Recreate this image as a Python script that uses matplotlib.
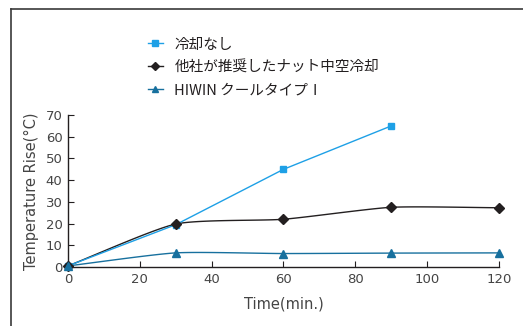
import matplotlib.pyplot as plt
from matplotlib.lines import Line2D
import numpy as np

plt.rcParams['font.family'] = ['DejaVu Sans', 'Noto Sans CJK JP']

# data
time_none = [0, 30, 60, 90]
temp_none = [0.5, 19.5, 45, 65]
time_nut = [0, 30, 60, 90, 120]
temp_nut = [0.5, 19.8, 22, 27.5, 27.3]
time_hiwin = [0, 30, 60, 90, 120]
temp_hiwin = [0.5, 6.5, 6.2, 6.4, 6.5]

labels = ['冷却なし', '他社が推奨したナット中空冷却', 'HIWIN クールタイプⅠ']
colors = ['#1ea0e6', '#231f20', '#17709e']


def smooth(x, y, n=30, k=0.6):
    '''Cardinal curve through the given points (like Excel smoothing).'''
    x = np.asarray(x, float)
    y = np.asarray(y, float)
    px = np.concatenate([[2 * x[0] - x[1]], x, [2 * x[-1] - x[-2]]])
    py = np.concatenate([[2 * y[0] - y[1]], y, [2 * y[-1] - y[-2]]])
    xs, ys = [], []
    t = np.linspace(0, 1, n)
    h00 = 2 * t ** 3 - 3 * t ** 2 + 1
    h10 = t ** 3 - 2 * t ** 2 + t
    h01 = -2 * t ** 3 + 3 * t ** 2
    h11 = t ** 3 - t ** 2
    for i in range(1, len(px) - 2):
        for p, out in ((px, xs), (py, ys)):
            m1 = k * (p[i + 1] - p[i - 1]) / 2
            m2 = k * (p[i + 2] - p[i]) / 2
            out.extend(h00 * p[i] + h10 * m1 + h01 * p[i + 1] + h11 * m2)
    return xs, ys


fig = plt.figure(figsize=(5.23, 3.26), dpi=100)
ax = fig.add_axes([0.130, 0.181, 0.824, 0.466])

ax.plot(time_none, temp_none, color=colors[0], lw=1.0, marker='s', ms=5,
        clip_on=False, zorder=3)
sx, sy = smooth(time_nut, temp_nut)
ax.plot(sx, sy, color=colors[1], lw=1.0, zorder=2)
ax.plot(time_nut, temp_nut, ls='none', color=colors[1], marker='D', ms=5,
        clip_on=False, zorder=3)
sx, sy = smooth(time_hiwin, temp_hiwin)
ax.plot(sx, sy, color=colors[2], lw=1.0, zorder=2)
ax.plot(time_hiwin, temp_hiwin, ls='none', color=colors[2], marker='^', ms=6,
        clip_on=False, zorder=3)

ax.set_xlim(0, 120)
ax.set_ylim(0, 70)
ax.set_xticks(range(0, 121, 20))
ax.set_yticks(range(0, 71, 10))
for s in ['top', 'right']:
    ax.spines[s].set_visible(False)
for s in ['left', 'bottom']:
    ax.spines[s].set_color('#231f20')
    ax.spines[s].set_linewidth(1.0)
ax.tick_params(direction='in', length=4, width=0.8, colors='#231f20',
               labelcolor='#444444', labelsize=9.5, pad=4)
ax.set_xlabel('Time(min.)', fontsize=10.5, color='#444444', labelpad=8)
ax.set_ylabel('Temperature Rise(°C)', fontsize=10.5, color='#444444', labelpad=5)

handles = [
    Line2D([], [], color=colors[0], marker='s', ms=4, lw=1.0),
    Line2D([], [], color=colors[1], marker='D', ms=4, lw=1.0),
    Line2D([], [], color=colors[2], marker='^', ms=5, lw=1.0),
]
fig.legend(handles, labels, loc='upper left', bbox_to_anchor=(0.258, 0.925),
           frameon=False, handlelength=1.0, handletextpad=0.8, labelspacing=0.6,
           prop={'family': ['Noto Sans CJK JP'], 'size': 10.5}, labelcolor='#231f20')

# frame line on top and left
fig.add_artist(Line2D([11 / 523, 11 / 523], [0, 1 - 9 / 326], color='#3a3a3a', lw=1.2))
fig.add_artist(Line2D([11 / 523, 1], [1 - 9 / 326, 1 - 9 / 326], color='#3a3a3a', lw=1.2))

fig.patch.set_facecolor('w')
fig.savefig('out.png', dpi=100)
